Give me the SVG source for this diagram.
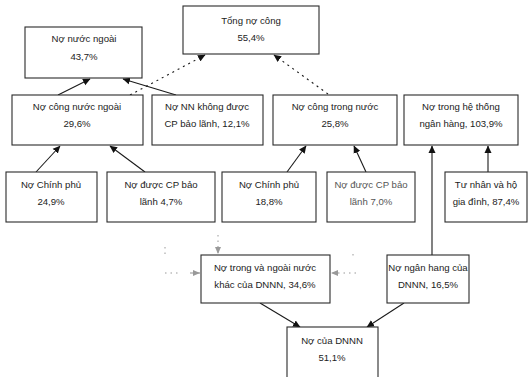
<svg xmlns="http://www.w3.org/2000/svg" width="529" height="377" viewBox="0 0 529 377">
<style>
.box{fill:#fff;stroke:#2a2a2a;stroke-width:1.1}
.t{font-family:"Liberation Sans",Arial,sans-serif;font-size:9.6px;fill:#222;text-anchor:middle}
.g{fill:#555}
.c{stroke:#1a1a1a;stroke-width:1.1;fill:none}
.d{stroke:#1a1a1a;stroke-width:1.1;fill:none;stroke-dasharray:2 4}
.gd{stroke:#999;stroke-width:1;fill:none;stroke-dasharray:1.5 4}
</style>
<defs>
<marker id="ah" markerWidth="8" markerHeight="8" refX="7" refY="4" orient="auto" markerUnits="userSpaceOnUse">
<path d="M0,0.5 L7.5,4 L0,7.5 Z" fill="#111"/>
</marker>
<marker id="ag" markerWidth="8" markerHeight="8" refX="7" refY="4" orient="auto" markerUnits="userSpaceOnUse">
<path d="M0,1 L7,4 L0,7 Z" fill="#999"/>
</marker>
</defs>
<rect width="529" height="377" fill="#fff"/>
<g id="connectors">
<line class="c" x1="58" y1="95" x2="90" y2="79" marker-end="url(#ah)"/>
<line class="c" x1="176" y1="95" x2="123" y2="79" marker-end="url(#ah)"/>
<line class="c" x1="36" y1="172" x2="60" y2="146" marker-end="url(#ah)"/>
<line class="c" x1="145" y1="172" x2="110" y2="146" marker-end="url(#ah)"/>
<line class="c" x1="287" y1="172" x2="306" y2="146" marker-end="url(#ah)"/>
<line class="c" x1="366" y1="172" x2="354" y2="146" marker-end="url(#ah)"/>
<line class="c" x1="488" y1="172" x2="488" y2="146" marker-end="url(#ah)"/>
<line class="c" x1="432" y1="255" x2="432" y2="146" marker-end="url(#ah)"/>
<line class="c" x1="260" y1="303" x2="300" y2="327" marker-end="url(#ah)"/>
<line class="c" x1="404" y1="303" x2="367" y2="327" marker-end="url(#ah)"/>
<line class="d" x1="130" y1="95" x2="205" y2="55" marker-end="url(#ah)"/>
<line class="d" x1="328" y1="94" x2="274" y2="55" marker-end="url(#ah)"/>
<line class="gd" x1="218" y1="235" x2="218" y2="254" marker-end="url(#ag)"/>
<line class="gd" x1="165" y1="273" x2="178" y2="273"/>
<line class="c" style="stroke:#999" x1="190" y1="273" x2="200" y2="273" marker-end="url(#ag)"/>
<line class="gd" x1="356" y1="273" x2="331" y2="273" marker-end="url(#ag)"/>
<line class="gd" x1="165" y1="247" x2="165" y2="256"/>
<line class="gd" x1="353" y1="254" x2="353" y2="258"/>
</g>
<g id="tong-no-cong">
<rect class="box" x="183" y="6" width="136" height="48"/>
<text class="t" x="251" y="24">Tổng nợ công</text>
<text class="t" x="251" y="41">55,4%</text>
</g>
<g id="no-nuoc-ngoai">
<rect class="box" x="25" y="27" width="117" height="51"/>
<text class="t" x="84" y="42">Nợ nước ngoài</text>
<text class="t" x="84" y="60">43,7%</text>
</g>
<g id="no-cong-nuoc-ngoai">
<rect class="box" x="12" y="95" width="131" height="50"/>
<text class="t" x="77" y="110">Nợ công nước ngoài</text>
<text class="t" x="77" y="127">29,6%</text>
</g>
<g id="no-nn-khong-duoc">
<rect class="box" x="152" y="95" width="111" height="50"/>
<text class="t" x="207" y="110">Nợ NN không được</text>
<text class="t" x="207" y="127">CP bảo lãnh, 12,1%</text>
</g>
<g id="no-cong-trong-nuoc">
<rect class="box" x="273" y="95" width="124" height="50"/>
<text class="t" x="335" y="110">Nợ công trong nước</text>
<text class="t" x="335" y="127">25,8%</text>
</g>
<g id="no-trong-he-thong">
<rect class="box" x="404" y="95" width="114" height="50"/>
<text class="t" x="461" y="110">Nợ trong hệ thống</text>
<text class="t" x="461" y="127">ngân hàng, 103,9%</text>
</g>
<g id="no-chinh-phu-1">
<rect class="box" x="6" y="172" width="91" height="50"/>
<text class="t" x="51" y="188">Nợ Chính phủ</text>
<text class="t" x="51" y="205">24,9%</text>
</g>
<g id="no-duoc-cp-1">
<rect class="box" x="107" y="172" width="108" height="50"/>
<text class="t" x="161" y="188">Nợ được CP bảo</text>
<text class="t" x="161" y="205">lãnh 4,7%</text>
</g>
<g id="no-chinh-phu-2">
<rect class="box" x="222" y="172" width="94" height="50"/>
<text class="t" x="269" y="188">Nợ Chính phủ</text>
<text class="t" x="269" y="205">18,8%</text>
</g>
<g id="no-duoc-cp-2">
<rect class="box" x="327" y="172" width="88" height="50"/>
<text class="t g" x="371" y="188">Nợ được CP bảo</text>
<text class="t g" x="371" y="205">lãnh 7,0%</text>
</g>
<g id="tu-nhan">
<rect class="box" x="445" y="172" width="82" height="50"/>
<text class="t" x="486" y="188">Tư nhân và hộ</text>
<text class="t" x="486" y="205">gia đình, 87,4%</text>
</g>
<g id="no-trong-ngoai-dnnn">
<rect class="box" x="201" y="255" width="129" height="48"/>
<text class="t" x="265" y="271">Nợ trong và ngoài nước</text>
<text class="t" x="265" y="288">khác của DNNN, 34,6%</text>
</g>
<g id="no-ngan-hang-dnnn">
<rect class="box" x="387" y="255" width="82" height="48"/>
<text class="t" x="428" y="271">Nợ ngân hang của</text>
<text class="t" x="428" y="288">DNNN, 16,5%</text>
</g>
<g id="no-dnnn">
<rect class="box" x="287" y="327" width="91" height="52"/>
<text class="t" x="332" y="344">Nợ của DNNN</text>
<text class="t" x="332" y="361">51,1%</text>
</g>
</svg>
